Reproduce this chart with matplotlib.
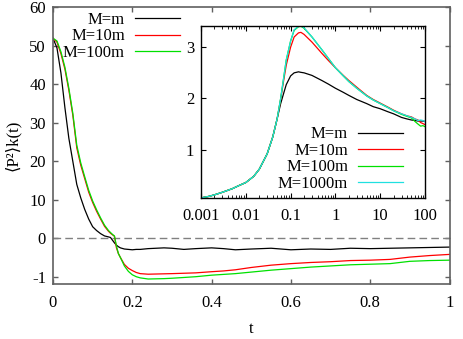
import numpy as np
import matplotlib
matplotlib.use("Agg")
import matplotlib.pyplot as plt
from matplotlib.ticker import FixedLocator, NullLocator, FuncFormatter, LogLocator

plt.rcParams['font.family'] = ['Liberation Serif', 'DejaVu Sans']
plt.rcParams['font.size'] = 12
plt.rcParams['axes.unicode_minus'] = False

# ---- main panel data (t, <P^2>k(t)) ----
t_main = [0, 0.01, 0.02, 0.03, 0.04, 0.05, 0.06, 0.07, 0.08, 0.09, 0.10,
          0.11, 0.12, 0.13, 0.14, 0.145, 0.15, 0.155, 0.16, 0.165, 0.17,
          0.18, 0.19, 0.2, 0.21, 0.22, 0.24, 0.26, 0.28, 0.3, 0.33, 0.36,
          0.4, 0.43, 0.46, 0.5, 0.55, 0.6, 0.65, 0.7, 0.75, 0.8, 0.85,
          0.9, 0.95, 1.0]
k_m = [52, 49.5, 43, 34, 26, 20, 14, 10.5, 7.5, 5, 3,
       2, 1.2, 0.6, 0.35, 0.2, -0.05, -0.12, -0.18, -0.22, -0.25,
       -0.28, -0.29, -0.3, -0.29, -0.29, -0.27, -0.26, -0.25, -0.26, -0.29, -0.27,
       -0.25, -0.27, -0.3, -0.28, -0.26, -0.3, -0.28, -0.29, -0.26, -0.27, -0.26,
       -0.25, -0.24, -0.23]
k_10m = [52, 51, 48, 44, 38.5, 32, 23.5, 19, 15.5, 12, 9.3,
         7, 5, 3.1, 1.8, 1.3, 0.9, 0.5, -0.25, -0.4, -0.5,
         -0.68, -0.78, -0.84, -0.89, -0.92, -0.935, -0.93, -0.925, -0.92, -0.91, -0.9,
         -0.87, -0.85, -0.82, -0.76, -0.7, -0.66, -0.63, -0.61, -0.58, -0.57, -0.55,
         -0.49, -0.45, -0.42]
k_100m = [52, 51.3, 48.5, 44.5, 39, 32.5, 24.2, 19.6, 16, 12.5, 9.7,
          7.4, 5.3, 3.4, 2.0, 1.5, 1.0, 0.6, -0.2, -0.4, -0.5,
          -0.72, -0.86, -0.95, -1.0, -1.03, -1.06, -1.055, -1.05, -1.04, -1.02, -1.0,
          -0.96, -0.94, -0.92, -0.88, -0.83, -0.79, -0.75, -0.72, -0.69, -0.675, -0.66,
          -0.6, -0.58, -0.57]

# ---- inset data (log t) ----
t_ins = [0.001, 0.0015, 0.002, 0.003, 0.005, 0.007, 0.01, 0.015, 0.02, 0.03,
         0.04, 0.05, 0.06, 0.07, 0.08, 0.1, 0.12, 0.15, 0.17, 0.2, 0.3, 0.5,
         0.7, 1, 1.5, 2, 3, 5, 7, 10, 15, 20, 30, 40, 50, 60, 70, 80, 90, 100]
rise = [0.06, 0.09, 0.12, 0.17, 0.24, 0.3, 0.36, 0.48, 0.62, 0.92, 1.25, 1.6]
i_m = rise + [1.9, 2.1, 2.27, 2.44, 2.5, 2.52, 2.51, 2.5, 2.45, 2.35,
              2.28, 2.2, 2.12, 2.06, 1.98, 1.9, 1.84, 1.8, 1.74, 1.7, 1.63, 1.6,
              1.58, 1.57, 1.56, 1.56, 1.56, 1.55]
i_10m = rise + [1.98, 2.35, 2.65, 3.0, 3.2, 3.28, 3.29, 3.25, 3.1, 2.88,
                2.74, 2.6, 2.45, 2.35, 2.22, 2.06, 1.98, 1.91, 1.83, 1.77, 1.7, 1.66,
                1.64, 1.6, 1.58, 1.53, 1.51, 1.49]
i_100m = rise + [2.0, 2.4, 2.75, 3.12, 3.33, 3.4, 3.41, 3.37, 3.2, 2.95,
                 2.78, 2.6, 2.44, 2.33, 2.2, 2.05, 1.97, 1.9, 1.82, 1.76, 1.69, 1.65,
                 1.62, 1.55, 1.5, 1.46, 1.47, 1.45]
i_1000m = rise + [2.0, 2.4, 2.75, 3.12, 3.34, 3.41, 3.42, 3.38, 3.2, 2.95,
                  2.78, 2.6, 2.44, 2.33, 2.2, 2.05, 1.97, 1.9, 1.82, 1.76, 1.7, 1.66,
                  1.63, 1.6, 1.57, 1.58, 1.57, 1.55]

main_ticks = [-1, 0, 10, 20, 30, 40, 50, 60]
inset_xticks = [0.001, 0.01, 0.1, 1, 10, 100]


def fwd(y):
    y = np.asarray(y, dtype=float)
    return np.where(y >= 0, y, 10 * y)


def inv(u):
    u = np.asarray(u, dtype=float)
    return np.where(u >= 0, u, u / 10)


fig = plt.figure(figsize=(4.64, 3.39), dpi=100)
ax = fig.add_axes([0.1142, 0.1622, 0.8546, 0.8157])
ax.set_yscale('function', functions=(fwd, inv))

ax.axhline(0, color='#808080', lw=1, dashes=(5.5, 3))
ax.plot(t_main, k_m, color='black', lw=0.9, label='M=m')
ax.plot(t_main, k_10m, color='#ff0000', lw=0.9, label='M=10m')
ax.plot(t_main, k_100m, color='#00e000', lw=0.9, label='M=100m')

ax.set_xlim(0, 1)
ax.set_ylim(-1.19, 60)
ax.yaxis.set_major_locator(FixedLocator(main_ticks))
ax.yaxis.set_major_formatter(FuncFormatter(lambda v, p: '%g' % v))
ax.xaxis.set_major_locator(FixedLocator([0, 0.2, 0.4, 0.6, 0.8, 1.0]))
ax.xaxis.set_major_formatter(FuncFormatter(lambda v, p: '%g' % v))
ax.yaxis.set_minor_locator(NullLocator())
ax.xaxis.set_minor_locator(NullLocator())
for s in ax.spines.values():
    s.set_color('#606060')
    s.set_linewidth(1.2)
ax.tick_params(direction='in', length=3.5, width=1, color='#606060',
               top=True, right=True)
ax.tick_params(axis='x', pad=8)
ax.tick_params(axis='y', pad=5)

ax.set_xlabel('t')
ax.xaxis.set_label_coords(0.5, -0.135)
ax.set_ylabel('⟨P²⟩k(t)')
ax.yaxis.set_label_coords(-0.08, 0.5)

ax.legend(loc='upper right', bbox_to_anchor=(0.32, 0.985), frameon=False,
          markerfirst=False, handlelength=2.7, handletextpad=0.6,
          labelspacing=0.05, borderpad=0, borderaxespad=0)

# ---- inset ----
ins = fig.add_axes([0.4332, 0.4159, 0.4827, 0.5083])
ins.set_xscale('log')
ins.plot(t_ins, i_m, color='black', lw=0.9, label='M=m')
ins.plot(t_ins, i_10m, color='#ff0000', lw=0.9, label='M=10m')
ins.plot(t_ins, i_100m, color='#00e000', lw=0.9, label='M=100m')
ins.plot(t_ins, i_1000m, color='#20e0e0', lw=0.9, label='M=1000m')
ins.set_xlim(0.001, 100)
ins.set_ylim(0.058, 3.42)
ins.yaxis.set_major_locator(FixedLocator([1, 2, 3]))
ins.xaxis.set_major_locator(FixedLocator(inset_xticks))
ins.xaxis.set_minor_locator(LogLocator(base=10, subs=np.arange(2, 10), numticks=20))
ins.xaxis.set_major_formatter(FuncFormatter(lambda v, p: '%g' % v))
ins.tick_params(which='both', direction='in', top=True, right=True)
ins.tick_params(which='major', length=3.5)
ins.tick_params(which='minor', length=2)
ins.tick_params(axis='x', which='major', pad=7)
ins.tick_params(axis='y', which='major', pad=5)
for s in ins.spines.values():
    s.set_linewidth(1)

ins.legend(loc='lower right', bbox_to_anchor=(0.902, 0.035), frameon=False,
           markerfirst=False, handlelength=2.7, handletextpad=0.6,
           labelspacing=0.03, borderpad=0, borderaxespad=0)

fig.savefig('out.png', dpi=100)
